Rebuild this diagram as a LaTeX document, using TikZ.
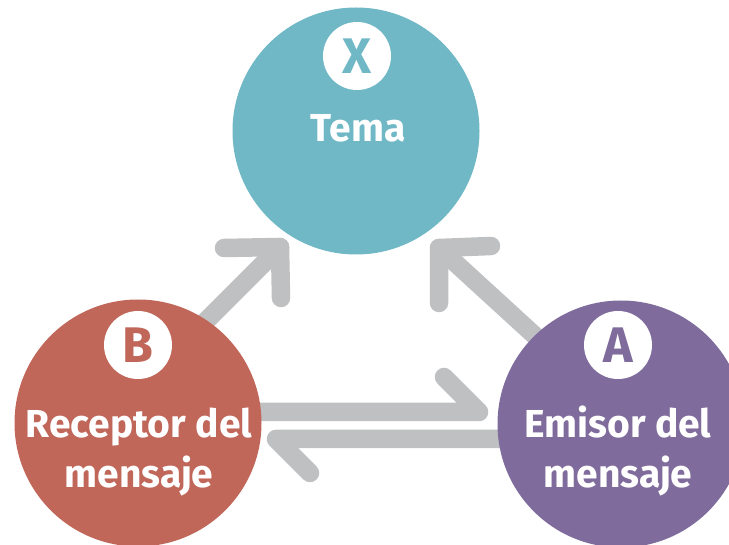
\documentclass[tikz,border=0pt]{standalone}
\usepackage{fontspec}
\setmainfont{Fira Sans}
\usepackage{tikz}
\usetikzlibrary{positioning}

\definecolor{temaC}{HTML}{70B8C6}
\definecolor{recC}{HTML}{C0675A}
\definecolor{emiC}{HTML}{7F6C9C}
\definecolor{arrC}{HTML}{BFC0C2}

\begin{document}
\begin{tikzpicture}[x=1pt,y=-1pt,
	bigc/.style={circle,minimum size=247pt,inner sep=0pt},
	letc/.style={circle,fill=white,minimum size=68pt,inner sep=0pt,font=\fontsize{50}{50}\selectfont\bfseries},
	lbl/.style={text=white,align=center,anchor=base,font=\fontsize{39}{50}\selectfont\bfseries},
	arr/.style={draw=arrC,line width=18.5pt,line cap=round,line join=round}]

		\useasboundingbox (0,0) rectangle (729,545);
		\clip (0,0) rectangle (729,545);

		%arrow ends
		\coordinate (s1) at (190,337);
		\coordinate (t1) at (280,247);
		\coordinate (s2) at (545,345);
		\coordinate (t2) at (439,248);
		\coordinate (s3) at (230,412);
		\coordinate (t3) at (479,412);
		\coordinate (s4) at (540,439);
		\coordinate (t4) at (276,439);

		%arrows
		\draw[arr] (s1) -- (t1);
		\draw[arr] (t1) ++(-56,1) -- (t1) -- ++(1,51);
		\draw[arr] (s2) -- (t2);
		\draw[arr] (t2) ++(52,-2) -- (t2) -- ++(0,55);
		\draw[arr] (s3) -- (t3) -- ++(-35,-35);
		\draw[arr] (s4) -- (t4) -- ++(34,34);

		%circles
		\node[bigc,fill=temaC] (tema) at (356,131) {};
		\node[bigc,fill=recC] (rec) at (138,423) {};
		\node[bigc,fill=emiC] (emi) at (621,424) {};

		%letters
		\node[letc,text=temaC] (x) at (357,56) {X};
		\node[letc,text=recC] (b) at (138,345) {B};
		\node[letc,text=emiC] (a) at (618,345) {A};

		%labels
		\node[lbl] (temaL) at (358,142) {Tema};
		\node[lbl] (recL) at (139,487) {Receptor del\\mensaje};
		\node[lbl] (emiL) at (618,487) {Emisor del\\mensaje};

\end{tikzpicture}
\end{document}
